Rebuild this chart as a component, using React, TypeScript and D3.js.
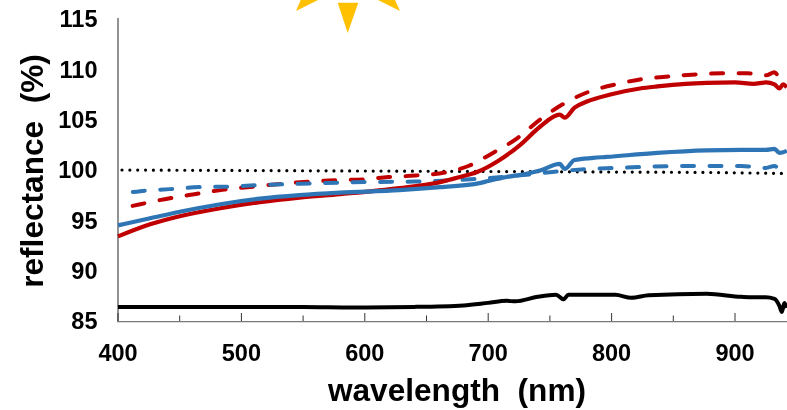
import React from "react";
import * as d3 from "d3";

const redSolidWl = [400, 426, 450, 483, 515, 547, 580, 628, 661, 677, 691, 708, 726, 742, 758, 762, 770, 780, 799, 823, 837, 860, 877, 900, 915, 925, 932, 936, 939, 942];
const redSolid = [93.4, 94.6, 95.4, 96.2, 96.8, 97.25, 97.6, 98.2, 98.8, 99.3, 99.8, 100.9, 102.5, 104.3, 105.5, 105.2, 106.2, 106.8, 107.5, 108.1, 108.3, 108.55, 108.65, 108.7, 108.55, 108.7, 108.5, 108.1, 108.5, 108.2];
const redDashedWl = [400, 418, 442, 462, 486, 510, 539, 580, 598, 619, 641, 665, 685, 701, 724, 742, 760, 780, 803, 823, 847, 869, 889, 910, 925, 932, 937, 942];
const redDashed = [96.1, 96.6, 97.2, 97.6, 98.05, 98.35, 98.7, 99, 99.06, 99.3, 99.45, 99.75, 100.45, 101.5, 103.2, 105, 106.5, 107.7, 108.5, 109, 109.3, 109.5, 109.6, 109.6, 109.4, 109.7, 109.1, 109.5];
const blueSolidWl = [400, 426, 450, 483, 515, 547, 580, 628, 661, 693, 700, 715, 730, 742, 758, 762, 770, 785, 796, 837, 877, 905, 925, 932, 936, 942];
const blueSolid = [94.5, 95.2, 95.85, 96.6, 97.15, 97.5, 97.75, 98, 98.3, 98.7, 98.9, 99.3, 99.6, 99.95, 100.6, 100.1, 101, 101.2, 101.3, 101.7, 101.95, 102, 102, 102.1, 101.7, 101.9];
const blueDashedWl = [400, 418, 442, 466, 490, 515, 539, 564, 600, 640, 689, 720, 752, 780, 803, 860, 905, 925, 932, 937, 942];
const blueDashed = [97.6, 97.9, 98.1, 98.3, 98.35, 98.5, 98.6, 98.7, 98.8, 98.85, 99.1, 99.4, 99.8, 100.1, 100.2, 100.4, 100.4, 100.2, 100.4, 100, 100.1];
const blackWl = [400, 450, 500, 550, 590, 640, 680, 700, 715, 722, 740, 755, 761, 765, 780, 803, 816, 830, 877, 905, 915, 925, 932, 936, 938, 940, 942];
const blackSolid = [86.4, 86.4, 86.4, 86.4, 86.35, 86.4, 86.55, 86.8, 87, 86.95, 87.4, 87.6, 87.15, 87.6, 87.6, 87.6, 87.3, 87.55, 87.7, 87.4, 87.35, 87.35, 87.2, 86.5, 85.9, 86.8, 86.3];
const baselineWl = [400, 500, 600, 700, 800, 880, 942];
const baseline = [100, 99.95, 99.9, 99.85, 99.8, 99.75, 99.65];
const xTicks = [400, 500, 600, 700, 800, 900];
const xMinorTicks = [450, 550, 650, 750, 850];
const yTicks = [85, 90, 95, 100, 105, 110, 115];

const x = d3.scaleLinear().domain([400, 900]).range([118, 735]);
const y = d3.scaleLinear().domain([85, 115]).range([321, 19]);
const path = (xs: number[], ys: number[]) =>
  d3.line<number>().x((_, i) => x(xs[i])).y((d) => y(d)).curve(d3.curveMonotoneX)(ys) ?? "";

const FONT = "Liberation Sans, Arial, sans-serif";
const sun = ["337.7,2.7 358.3,2.7 347.7,33", "296,11 300.7,0 318,0", "400,11 395,0 378,0"];
const BLUE = "#2E75B6";
const RED = "#C00000";
const dash = { fill: "none", strokeWidth: 4, strokeDasharray: "12 15.5", strokeDashoffset: 12.5, strokeLinecap: "round" as const };

export default function App() {
  return (
    <svg width={787} height={410} style={{ position: "fixed", left: 0, top: 0 }} fontFamily={FONT}>
      {sun.map((p) => <polygon key={p} points={p} fill="#FFC000" />)}
      <line x1={118} x2={118} y1={18} y2={322} stroke="#777" strokeWidth={1.6} />
      <line x1={117} x2={787} y1={321.6} y2={321.6} stroke="#777" strokeWidth={1.4} />
      {xTicks.map((t) => (
        <line key={t} x1={x(t)} x2={x(t)} y1={313} y2={321} stroke="#333" strokeWidth={1} />
      ))}
      {xMinorTicks.map((t) => (
        <line key={t} x1={x(t)} x2={x(t)} y1={315.5} y2={321} stroke="#333" strokeWidth={1} />
      ))}
      <path d={path(baselineWl, baseline)} fill="none" stroke="#000" strokeWidth={3.2} strokeDasharray="0 7.85" strokeDashoffset={-4} strokeLinecap="round" />
      <path d={path(redDashedWl, redDashed)} stroke={RED} {...dash} />
      <path d={path(blueDashedWl, blueDashed)} stroke={BLUE} {...dash} />
      <path d={path(redSolidWl, redSolid)} fill="none" stroke={RED} strokeWidth={4.2} />
      <path d={path(blueSolidWl, blueSolid)} fill="none" stroke={BLUE} strokeWidth={4.2} />
      <path d={path(blackWl, blackSolid)} fill="none" stroke="#000" strokeWidth={4} />
      {xTicks.map((t) => (
        <text key={t} x={x(t)} y={360.5} textAnchor="middle" fontSize={23.5} fontWeight={700}>{t}</text>
      ))}
      {yTicks.map((t) => (
        <text key={t} x={97.5} y={y(t) + 8.4} textAnchor="end" fontSize={23.5} fontWeight={700}>{t}</text>
      ))}
      <text x={457} y={401} textAnchor="middle" fontSize={31.6} fontWeight={700} xmlSpace="preserve">wavelength  (nm)</text>
      <text transform="translate(42.5,171) rotate(-90)" textAnchor="middle" fontSize={31.6} fontWeight={700} xmlSpace="preserve">reflectance  (%)</text>
    </svg>
  );
}
